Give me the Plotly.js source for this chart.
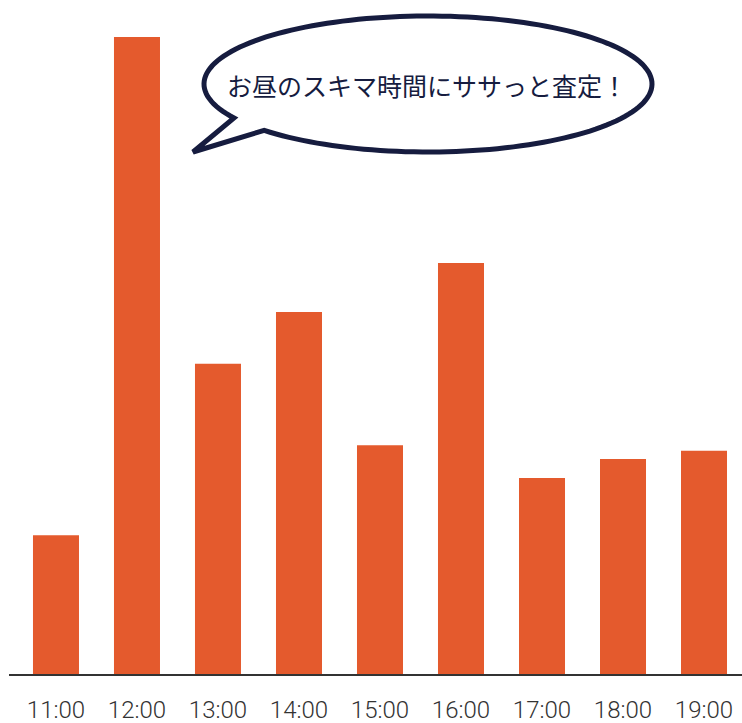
<!DOCTYPE html>
<html>
<head>
<meta charset="utf-8">
<script src="https://cdn.plot.ly/plotly-3.0.1.min.js"></script>
<style>html,body{margin:0;padding:0;background:#fff;}#chart{width:742px;height:723px;}</style>
</head>
<body>
<div id="chart"></div>
<script>
// Data (share of assessments by hour, %)
const hours = ["11:00","12:00","13:00","14:00","15:00","16:00","17:00","18:00","19:00"];
const shares = [5.1, 23.4, 11.4, 13.3, 8.4, 15.1, 7.2, 7.9, 8.2];
const bubbleText = "お昼のスキマ時間にササっと査定！";

const W = 742, H = 723;
const M = {l: 9, r: 0, t: 0, b: 49};
const pw = W - M.l - M.r, ph = H - M.t - M.b;
function px2paper(x, y) { return [(x - M.l) / pw, (H - M.b - y) / ph]; }

// speech bubble outline (pixel geometry -> paper)
const cx = 428, cy = 84, rx = 224, ry = 68;
const tA = 150 * Math.PI / 180, tB = (360 + 137) * Math.PI / 180;
let pts = [];
const N = 160;
for (let i = 0; i <= N; i++) {
  const t = tA + (tB - tA) * i / N;
  pts.push([cx + rx * Math.cos(t), cy + ry * Math.sin(t)]);
}
pts.push([193, 152]);
let path = pts.map((p, i) => {
  const q = px2paper(p[0], p[1]);
  return (i === 0 ? "M" : "L") + q[0].toFixed(5) + "," + q[1].toFixed(5);
}).join(" ") + " Z";
const tc = px2paper(427, 85);

const trace = {
  type: "bar",
  x: hours,
  y: shares,
  marker: {color: "#E45A2D", line: {width: 0}},
  hoverinfo: "x+y"
};

const layout = {
  width: W, height: H,
  margin: M,
  paper_bgcolor: "#fff", plot_bgcolor: "#fff",
  showlegend: false,
  bargap: 0.432,
  xaxis: {
    type: "category",
    range: [-0.580, 8.469],
    showline: true, linecolor: "#333", linewidth: 2,
    ticks: "outside", ticklen: 13, tickcolor: "rgba(0,0,0,0)",
    tickfont: {family: "Roboto, 'Noto Sans', sans-serif", size: 24, color: "#333", weight: 300},
    showgrid: false, zeroline: false, fixedrange: true
  },
  yaxis: {
    range: [0, 24.76],
    visible: false, showgrid: false, zeroline: false, fixedrange: true
  },
  shapes: [{
    type: "path", xref: "paper", yref: "paper", path: path,
    fillcolor: "#fff", line: {color: "#161c3f", width: 5}, layer: "above"
  }],
  annotations: [{
    xref: "paper", yref: "paper", x: tc[0], y: tc[1],
    xanchor: "center", yanchor: "middle", showarrow: false,
    text: bubbleText,
    font: {family: "'Noto Sans CJK JP', sans-serif", size: 25, color: "#161c3f"}
  }]
};

Plotly.newPlot("chart", [trace], layout, {displayModeBar: false, staticPlot: true});
</script>
</body>
</html>
